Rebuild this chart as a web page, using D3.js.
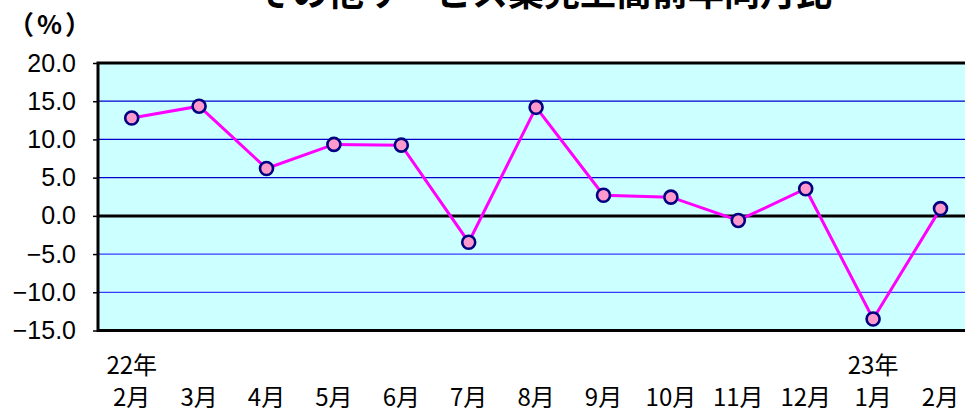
<!DOCTYPE html>
<html><head><meta charset="utf-8">
<script src="https://cdn.jsdelivr.net/npm/d3@7"></script>
<style>html,body{margin:0;padding:0;background:#fff;overflow:hidden}</style>
</head><body>
<svg id="c" width="965" height="412"></svg>
<script>
const title = "その他サービス業売上高前年同月比";
const months = ["2月","3月","4月","5月","6月","7月","8月","9月","10月","11月","12月","1月","2月"];
const years = ["22年","","","","","","","","","","","23年",""];
const values = [12.8, 14.35, 6.2, 9.35, 9.25, -3.45, 14.2, 2.7, 2.45, -0.6, 3.55, -13.5, 0.95];
const yTicks = [20, 15, 10, 5, 0, -5, -10, -15];
const unitLabel = "（%）";

const svg = d3.select("#c");
const L = 98, T = 63, B = 330.5, R = 98 + 13 * 67.4;
const ids = d3.range(months.length);
const x = d3.scalePoint().domain(ids).range([L, R]).padding(0.5);
const y = d3.scaleLinear().domain([-15, 20]).range([B, T]);

svg.append("rect").attr("x", L).attr("y", T).attr("width", R - L).attr("height", B - T).attr("fill", "#ccffff");

// grid lines
svg.append("g").selectAll("line").data(yTicks.filter(v => v !== 20 && v !== -15 && v !== 0)).join("line")
  .attr("x1", L).attr("x2", R).attr("y1", d => y(d)).attr("y2", d => y(d))
  .attr("stroke", d => d > 0 ? "#0000cc" : "#3a3aff").attr("stroke-width", 1.2);

// zero line
svg.append("line").attr("x1", L).attr("x2", R).attr("y1", y(0) + 1.5).attr("y2", y(0) + 1.5)
  .attr("stroke", "#8aa").attr("stroke-width", 1.5);
svg.append("line").attr("x1", L).attr("x2", R).attr("y1", y(0)).attr("y2", y(0))
  .attr("stroke", "#000").attr("stroke-width", 2.6);

// border
svg.append("rect").attr("x", L).attr("y", T).attr("width", R - L).attr("height", B - T)
  .attr("fill", "none").attr("stroke", "#000").attr("stroke-width", 3);

// y axis
const yAxis = d3.axisLeft(y).tickValues(yTicks).tickSize(4).tickPadding(17).tickFormat(d3.format(".1f"));
const gy = svg.append("g").attr("transform", `translate(${L - 1},0)`).call(yAxis);
gy.select(".domain").remove();
gy.selectAll(".tick line").attr("stroke", "#000").attr("stroke-width", 1.5);
gy.selectAll(".tick text").attr("font-family", "'Liberation Sans', Arial, sans-serif")
  .attr("font-size", 25).attr("fill", "#000")
  .text(d => (d < 0 ? "\u2212" + d3.format(".1f")(-d) : d3.format(".1f")(d)));

svg.append("text").attr("x", 51).attr("y", 34).attr("text-anchor", "middle")
  .attr("font-family", "'Noto Sans CJK JP', sans-serif").attr("font-weight", "bold")
  .attr("letter-spacing", 3).attr("font-size", 26).text(unitLabel);

// x labels
const gx = svg.append("g");
gx.selectAll("text.m").data(ids).join("text").attr("class", "m")
  .attr("x", i => x(i)).attr("y", 406).attr("text-anchor", "middle")
  .attr("font-family", "'Noto Sans CJK JP', sans-serif").attr("font-size", 24).text(i => months[i]);
gx.selectAll("text.yr").data(ids.filter(i => years[i])).join("text").attr("class", "yr")
  .attr("x", i => x(i)).attr("y", 374).attr("text-anchor", "middle")
  .attr("font-family", "'Noto Sans CJK JP', sans-serif").attr("font-size", 24).text(i => years[i]);

// line
const line = d3.line().x((d, i) => x(i)).y(d => y(d));
svg.append("path").datum(values).attr("d", line).attr("fill", "none")
  .attr("stroke", "#ff00ff").attr("stroke-width", 3);
svg.append("g").selectAll("circle").data(values).join("circle")
  .attr("cx", (d, i) => x(i)).attr("cy", d => y(d)).attr("r", 6.5)
  .attr("fill", "#ff99cc").attr("stroke", "#000080").attr("stroke-width", 2.6);

// title
svg.append("text").attr("x", 544).attr("y", 6).attr("text-anchor", "middle")
  .attr("font-family", "'Noto Sans CJK JP', sans-serif").attr("font-weight", "bold")
  .attr("font-size", 36).text(title);
</script>
</body></html>
